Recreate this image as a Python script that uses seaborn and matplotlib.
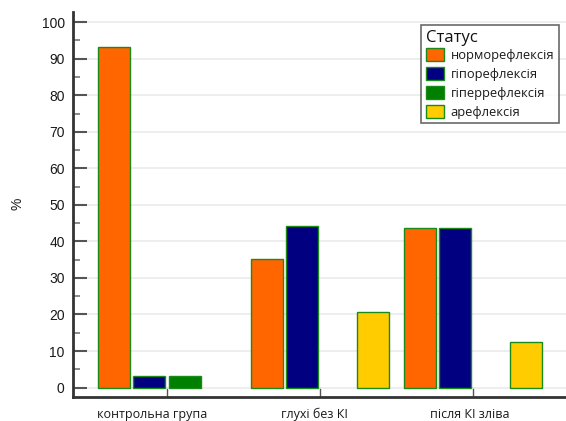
import matplotlib
matplotlib.use("Agg")
import matplotlib.pyplot as plt
from matplotlib.ticker import MultipleLocator
from matplotlib.transforms import ScaledTranslation
import numpy as np
import pandas as pd
import seaborn as sns

groups = ["контрольна група", "глухі без КІ", "після КІ зліва"]
statuses = ["норморефлексія", "гіпорефлексія", "гіперрефлексія", "арефлексія"]
normo = [93.3, 35.3, 43.8]
hypo = [3.3, 44.1, 43.7]
hyper = [3.3, np.nan, np.nan]
areflex = [np.nan, 20.6, 12.5]
colors = ["#FF6600", "#000080", "#008000", "#FFCC00"]

rows = []
for s, vals in zip(statuses, [normo, hypo, hyper, areflex]):
    for g, v in zip(groups, vals):
        rows.append({"group": g, "Статус": s, "value": v})
df = pd.DataFrame(rows)

sns.set_style("white")
plt.rcParams["font.family"] = ["Liberation Sans", "DejaVu Sans"]

fig = plt.figure(figsize=(5.66, 4.21), dpi=100)
ax = fig.add_axes([0.129, 0.0577, 0.871, 0.914])

sns.barplot(df, x="group", y="value", hue="Статус", hue_order=statuses,
            order=groups, palette=colors, saturation=1, width=0.93, gap=0.1,
            errorbar=None, edgecolor="#1a8a1a", linewidth=1.0, ax=ax)

ax.set_ylim(-2.5, 102.8)
ax.set_xlim(-0.614, 2.608)
ax.yaxis.set_major_locator(MultipleLocator(10))
ax.yaxis.set_minor_locator(MultipleLocator(5))
ax.grid(axis="y", color="#ebebeb", linewidth=1.2)
ax.set_axisbelow(True)

for side in ["top", "right"]:
    ax.spines[side].set_visible(False)
for side in ["left", "bottom"]:
    ax.spines[side].set_color("#333333")
    ax.spines[side].set_linewidth(2)

ax.tick_params(axis="y", which="major", direction="in", length=10, width=1.5,
               color="#555555", labelsize=10, labelcolor="#1a1a1a", pad=6, left=True)
ax.tick_params(axis="y", which="minor", direction="in", length=5, width=1.2,
               color="#777777", left=True)
ax.tick_params(axis="x", direction="in", length=7, width=1, color="#555555",
               labelcolor="#1a1a1a", pad=8, bottom=True)
# labels in the original sit a little left of their ticks
shifts = [-15, -6, -3]
for lab, dx in zip(ax.get_xticklabels(), shifts):
    lab.set_fontfamily(["Open Sans", "DejaVu Sans"])
    lab.set_fontsize(9)
    lab.set_transform(lab.get_transform() + ScaledTranslation(dx / 100, 0, fig.dpi_scale_trans))

ax.set_xlabel("")
ax.set_ylabel("%", fontsize=10, labelpad=12, color="#1a1a1a")

leg = ax.legend(title="Статус", loc="upper right", bbox_to_anchor=(0.985, 0.966),
                frameon=True, fancybox=False, edgecolor="#444444",
                prop={"family": ["Open Sans", "DejaVu Sans"], "size": 9.3},
                handlelength=1.4, handleheight=1.1, handletextpad=0.5,
                labelspacing=0.42, borderpad=0.35, borderaxespad=0)
leg.get_title().set_fontfamily(["Open Sans", "DejaVu Sans"])
leg.get_title().set_fontsize(12)
leg.get_title().set_color("#111111")
leg._legend_box.align = "left"
leg._legend_box.sep = 2
leg.get_frame().set_linewidth(1.2)
for t in leg.get_texts():
    t.set_color("#1a1a1a")
for h in leg.legend_handles:
    h.set_edgecolor("#1a8a1a")

fig.savefig("out.png", dpi=100)
